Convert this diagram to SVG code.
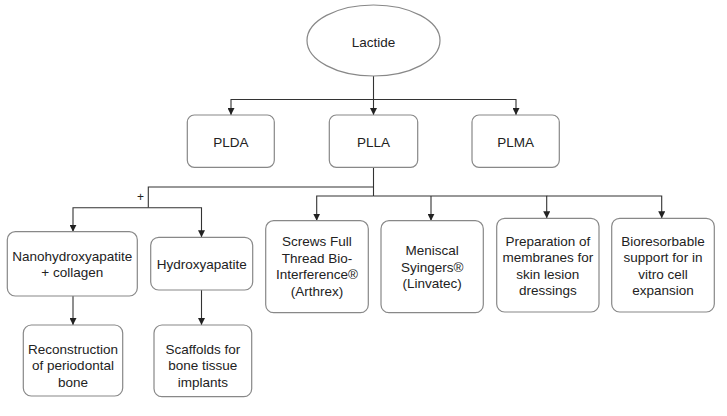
<svg xmlns="http://www.w3.org/2000/svg" width="727" height="416" viewBox="0 0 727 416">
<defs>
<marker id="arr" viewBox="0 0 10 10" refX="10" refY="5" markerWidth="7" markerHeight="7" markerUnits="userSpaceOnUse" orient="auto">
<path d="M0,0 L10,5 L0,10 z" fill="#222"/>
</marker>
<style>
.box{fill:#fff;stroke:#888;stroke-width:1.2}
.t{font-family:"Liberation Sans",Arial,sans-serif;font-size:13.5px;fill:#222;text-anchor:middle}
.c{fill:none;stroke:#333;stroke-width:1.1}
</style>
</defs>
<rect width="727" height="416" fill="#fff"/>
<g id="connectors">
<path class="c" d="M373.5 76 V115" marker-end="url(#arr)"/>
<path class="c" d="M373.5 99.5 H231 V115" marker-end="url(#arr)"/>
<path class="c" d="M373.5 99.5 H516 V115" marker-end="url(#arr)"/>
<path class="c" d="M373.5 167.3 V196"/>
<path class="c" d="M373.5 196 H316.7 V220.7" marker-end="url(#arr)"/>
<path class="c" d="M431 196 V220.7" marker-end="url(#arr)"/>
<path class="c" d="M373.5 196 H546.7 V218.3" marker-end="url(#arr)"/>
<path class="c" d="M546.7 196 H661.7 V218.3" marker-end="url(#arr)"/>
<path class="c" d="M373.5 187 H148.3 V207.7"/>
<path class="c" d="M148.3 207.7 H73 V231.7" marker-end="url(#arr)"/>
<path class="c" d="M148.3 207.7 H201.5 V237.3" marker-end="url(#arr)"/>
<path class="c" d="M73 296 V325" marker-end="url(#arr)"/>
<path class="c" d="M201.5 290 V325" marker-end="url(#arr)"/>
<text x="140.5" y="201" class="t" style="font-size:12px">+</text>
</g>
<g id="lactide">
<ellipse cx="373.5" cy="40.5" rx="66.5" ry="35.5" class="box"/>
<text x="373.5" y="47" class="t">Lactide</text>
</g>
<g id="plda">
<rect x="187.3" y="115" width="87" height="52.3" rx="7" class="box"/>
<text x="230.8" y="146.5" class="t">PLDA</text>
</g>
<g id="plla">
<rect x="329.3" y="115" width="88.4" height="52.3" rx="7" class="box"/>
<text x="373.5" y="146.5" class="t">PLLA</text>
</g>
<g id="plma">
<rect x="472" y="115" width="87.3" height="52.3" rx="7" class="box"/>
<text x="515.7" y="146.5" class="t">PLMA</text>
</g>
<g id="nano">
<rect x="7.3" y="231.7" width="130" height="64.3" rx="8" class="box"/>
<text x="72.3" y="261" class="t">Nanohydroxyapatite</text>
<text x="72.3" y="277" class="t">+ collagen</text>
</g>
<g id="hydroxy">
<rect x="150.7" y="237.3" width="102" height="52.7" rx="8" class="box"/>
<text x="201.7" y="269" class="t">Hydroxyapatite</text>
</g>
<g id="reconstruction">
<rect x="23.3" y="325" width="99.4" height="71" rx="8" class="box"/>
<text x="73" y="354" class="t">Reconstruction</text>
<text x="73" y="370.3" class="t">of periodontal</text>
<text x="73" y="386.7" class="t">bone</text>
</g>
<g id="scaffolds">
<rect x="154" y="325" width="97.7" height="71.7" rx="8" class="box"/>
<text x="202.8" y="354" class="t">Scaffolds for</text>
<text x="202.8" y="370.3" class="t">bone tissue</text>
<text x="202.8" y="386.7" class="t">implants</text>
</g>
<g id="screws">
<rect x="265.7" y="220.7" width="102.6" height="92" rx="8" class="box"/>
<text x="317" y="246" class="t">Screws Full</text>
<text x="317" y="262.5" class="t">Thread Bio-</text>
<text x="317" y="279" class="t">Interference®</text>
<text x="317" y="295.5" class="t">(Arthrex)</text>
</g>
<g id="meniscal">
<rect x="381" y="220.7" width="102.3" height="92" rx="8" class="box"/>
<text x="432.2" y="255" class="t">Meniscal</text>
<text x="432.2" y="271.5" class="t">Syingers®</text>
<text x="432.2" y="288" class="t">(Linvatec)</text>
</g>
<g id="preparation">
<rect x="496.7" y="218.3" width="102.3" height="93.7" rx="8" class="box"/>
<text x="547.8" y="245.5" class="t">Preparation of</text>
<text x="547.8" y="262" class="t">membranes for</text>
<text x="547.8" y="278.5" class="t">skin lesion</text>
<text x="547.8" y="295" class="t">dressings</text>
</g>
<g id="bioresorbable">
<rect x="611.7" y="218.3" width="102.6" height="93.7" rx="8" class="box"/>
<text x="663" y="245.5" class="t">Bioresorbable</text>
<text x="663" y="262" class="t">support for in</text>
<text x="663" y="278.5" class="t">vitro cell</text>
<text x="663" y="295" class="t">expansion</text>
</g>
</svg>
